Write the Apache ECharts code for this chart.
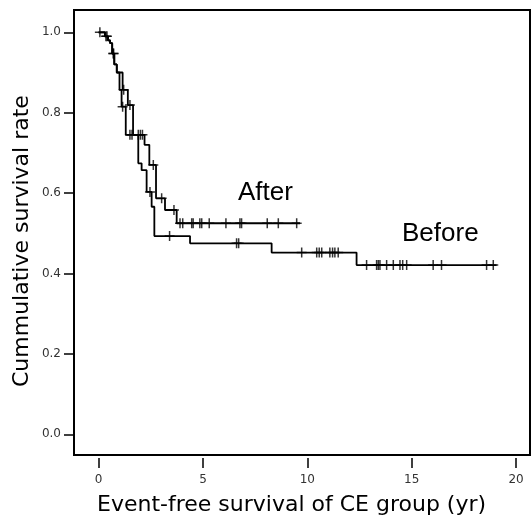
<!DOCTYPE html>
<html>
<head>
<meta charset="utf-8">
<script src="https://cdn.jsdelivr.net/npm/echarts@6/dist/echarts.min.js"></script>
<style>html,body{margin:0;padding:0;background:#fff;}#c{width:531px;height:523px;}</style>
</head>
<body>
<div id="c"></div>
<script>
// ---- data ----
const xTicks = [0, 5, 10, 15, 20];
const yTicks = [0, 0.2, 0.4, 0.6, 0.8, 1.0];

const beforeEventTimes = [0, 0.30, 0.45, 0.55, 0.65, 0.75, 0.87, 1.00, 1.10, 1.30, 1.90, 2.06, 2.30, 2.54, 2.67, 4.38, 8.29, 12.36];
const beforeSurvival   = [1.0, 0.99, 0.98, 0.973, 0.947, 0.92, 0.90, 0.857, 0.815, 0.745, 0.674, 0.657, 0.603, 0.566, 0.493, 0.475, 0.452, 0.421];
const beforeEndTime = 19.07;
const beforeCensor = [0.06, 0.35, 0.72, 1.15, 1.50, 1.60, 2.46, 3.40, 6.61, 6.71, 9.73, 10.45, 10.57, 10.69, 11.08, 11.21, 11.32, 11.48, 12.84, 13.32, 13.40, 13.48, 13.80, 14.12, 14.44, 14.57, 14.76, 16.03, 16.43, 18.59, 18.91];

const afterEventTimes = [0, 0.30, 0.45, 0.55, 0.65, 0.75, 0.87, 1.15, 1.40, 1.65, 2.20, 2.43, 2.75, 3.18, 3.74];
const afterSurvival   = [1.0, 0.99, 0.98, 0.973, 0.947, 0.92, 0.90, 0.857, 0.819, 0.745, 0.72, 0.67, 0.587, 0.558, 0.525];
const afterEndTime = 9.65;
const afterCensor = [0.40, 0.70, 1.20, 1.50, 1.90, 2.00, 2.10, 2.62, 3.02, 3.61, 3.90, 4.03, 4.46, 4.53, 4.85, 4.94, 5.30, 6.10, 6.77, 6.85, 8.08, 8.61, 9.49];

const xTitle = 'Event-free survival of CE group (yr)';
const yTitle = 'Cummulative survival rate';
const labelAfter = 'After';
const labelBefore = 'Before';

// ---- helpers ----
function stepData(times, surv, endT) {
  const d = times.map((t, i) => [t, surv[i]]);
  d.push([endT, surv[surv.length - 1]]);
  return d;
}
function survAt(times, surv, t) {
  let s = surv[0];
  for (let i = 0; i < times.length; i++) { if (times[i] <= t) s = surv[i]; }
  return s;
}
const plus = 'path://M5,0L5,10M0,5L10,5';
const markStyle = {color: 'none', borderColor: '#000', borderWidth: 1.5};

const chart = echarts.init(document.getElementById('c'), null, {renderer: 'canvas'});
chart.setOption({
  animation: false,
  backgroundColor: '#fff',
  grid: {left: 74, top: 10, width: 456, height: 445, show: true, borderColor: '#000', borderWidth: 2, backgroundColor: 'transparent'},
  xAxis: {
    type: 'value', min: -1.18, max: 20.67, offset: 3,
    axisLine: {show: false, onZero: false},
    splitLine: {show: false},
    axisTick: {show: true, length: 10, customValues: xTicks, lineStyle: {color: '#000', width: 1.5}},
    axisLabel: {customValues: xTicks, margin: 16, fontFamily: 'DejaVu Sans', fontSize: 12, color: '#333'}
  },
  yAxis: {
    type: 'value', min: -0.0515, max: 1.0555,
    axisLine: {show: false, onZero: false},
    splitLine: {show: false},
    axisTick: {show: true, length: 10, customValues: yTicks, lineStyle: {color: '#000', width: 1.5}},
    axisLabel: {customValues: yTicks, margin: 13, fontFamily: 'DejaVu Sans', fontSize: 12, color: '#333',
      formatter: v => v.toFixed(1)}
  },
  series: [
    {type: 'line', step: 'end', symbol: 'none', data: stepData(beforeEventTimes, beforeSurvival, beforeEndTime),
      lineStyle: {color: '#000', width: 1.8}},
    {type: 'line', step: 'end', symbol: 'none', data: stepData(afterEventTimes, afterSurvival, afterEndTime),
      lineStyle: {color: '#000', width: 1.8}},
    {type: 'scatter', symbol: plus, symbolSize: 10, itemStyle: markStyle,
      data: beforeCensor.map(t => [t, survAt(beforeEventTimes, beforeSurvival, t)])},
    {type: 'scatter', symbol: plus, symbolSize: 10, itemStyle: markStyle,
      data: afterCensor.map(t => [t, survAt(afterEventTimes, afterSurvival, t)])}
  ],
  graphic: [
    {type: 'text', left: 97, top: 494, style: {text: xTitle, font: '22px "DejaVu Sans"', fill: '#000'}},
    {type: 'text', x: 11, y: 387, rotation: Math.PI / 2, style: {text: yTitle, font: '22px "DejaVu Sans"', fill: '#000', textVerticalAlign: 'top'}},
    {type: 'text', left: 238, top: 180, style: {text: labelAfter, font: '26px "Liberation Sans"', fill: '#000'}},
    {type: 'text', left: 402, top: 221, style: {text: labelBefore, font: '26px "Liberation Sans"', fill: '#000'}}
  ]
});
</script>
</body>
</html>
